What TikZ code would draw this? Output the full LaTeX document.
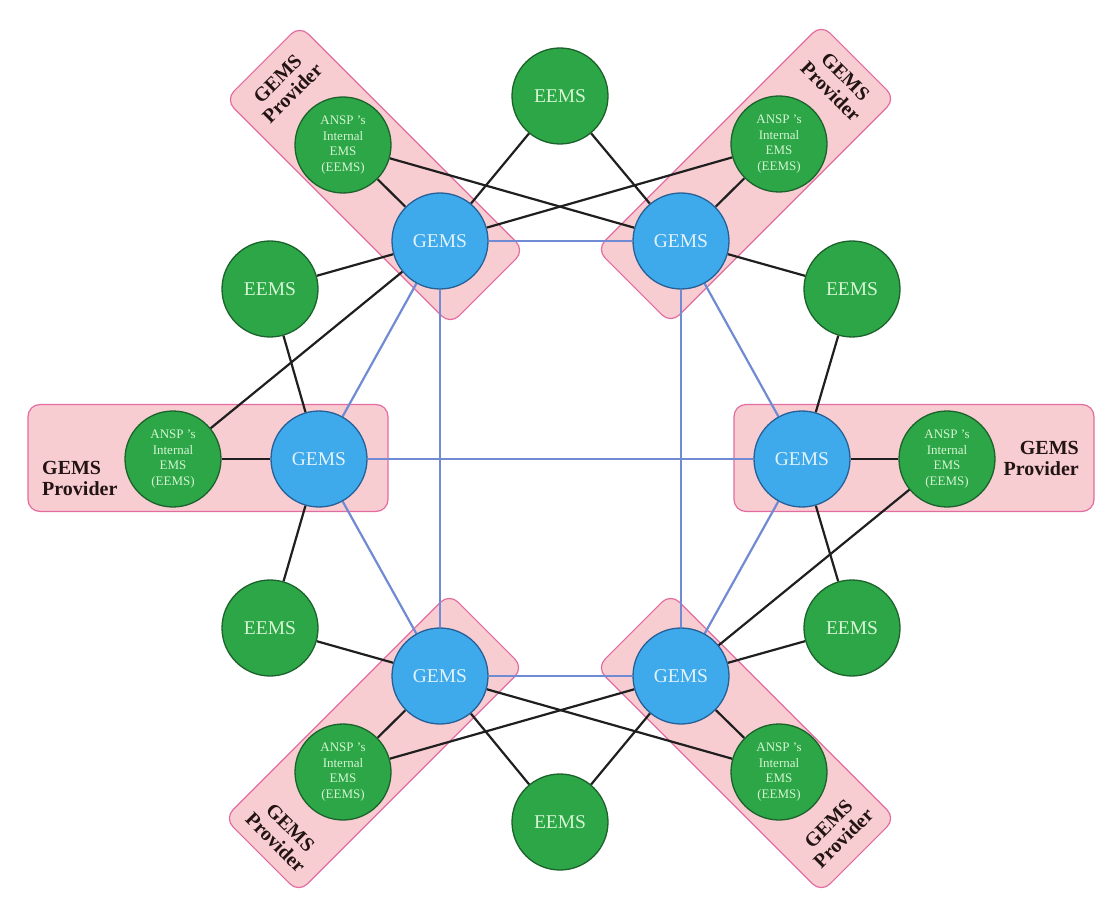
\documentclass[tikz,border=0pt]{standalone}
\usepackage{fontspec}
\setmainfont{Liberation Serif}
\usetikzlibrary{backgrounds}

\definecolor{gemsfill}{RGB}{62,170,236}
\definecolor{gemsbd}{RGB}{38,96,150}
\definecolor{gemstext}{RGB}{226,242,252}
\definecolor{eemsfill}{RGB}{44,166,70}
\definecolor{eemsbd}{RGB}{28,98,44}
\definecolor{eemstext}{RGB}{212,246,212}
\definecolor{provfill}{RGB}{248,205,210}
\definecolor{provbd}{RGB}{226,108,160}
\definecolor{provtext}{RGB}{35,20,20}
\definecolor{meshblue}{RGB}{112,138,212}

\begin{document}
\begin{tikzpicture}[x=1pt,y=-1pt,
	gems/.style={circle, draw=gemsbd, fill=gemsfill, line width=1.3pt, minimum size=96pt, inner sep=0pt, text=gemstext, font=\fontsize{19.5}{21}\selectfont},
	eems/.style={circle, draw=eemsbd, fill=eemsfill, line width=1.3pt, minimum size=96pt, inner sep=0pt, text=eemstext, font=\fontsize{19.5}{21}\selectfont},
	ansp/.style={eems, align=center, font=\fontsize{13}{15.5}\selectfont},
	provbox/.style={rectangle, rounded corners=12pt, draw=provbd, fill=provfill, line width=1.2pt, inner sep=0pt},
	provlabel/.style={font=\bfseries\fontsize{20}{21}\selectfont, text=provtext, inner sep=0pt},
	mesh/.style={line width=2.2pt, draw=meshblue},
	link/.style={line width=2.2pt, draw=black!88}]
	\useasboundingbox (0,0) rectangle (1112,917);
	
	%GEMS
	\node[gems] (g1) at (440,241) {GEMS};
	\node[gems] (g2) at (681,241) {GEMS};
	\node[gems] (g3) at (319,459) {GEMS};
	\node[gems] (g4) at (802,459) {GEMS};
	\node[gems] (g5) at (440,676) {GEMS};
	\node[gems] (g6) at (681,676) {GEMS};
	
	%EEMS
	\node[eems] (etop) at (560,96)  {EEMS};
	\node[eems] (eul)  at (270,289) {EEMS};
	\node[eems] (eur)  at (852,289) {EEMS};
	\node[eems] (ell)  at (270,628) {EEMS};
	\node[eems] (elr)  at (852,628) {EEMS};
	\node[eems] (ebot) at (560,822) {EEMS};
	
	%internal EMS
	\node[ansp] (a1) at (343,145) {ANSP 's\\Internal\\EMS\\(EEMS)};
	\node[ansp] (a2) at (779,144) {ANSP 's\\Internal\\EMS\\(EEMS)};
	\node[ansp] (a3) at (173,459) {ANSP 's\\Internal\\EMS\\(EEMS)};
	\node[ansp] (a4) at (947,459) {ANSP 's\\Internal\\EMS\\(EEMS)};
	\node[ansp] (a5) at (343,772) {ANSP 's\\Internal\\EMS\\(EEMS)};
	\node[ansp] (a6) at (779,772) {ANSP 's\\Internal\\EMS\\(EEMS)};
	
	%provider boxes
	\begin{scope}[on background layer]
	\node[provbox, minimum width=360pt, minimum height=107pt] (boxL) at (208,458) {};
	\node[provbox, minimum width=360pt, minimum height=107pt] (boxR) at (914,458) {};
	\node[provbox, minimum width=318pt, minimum height=105pt, rotate=-45] (boxUL) at (375,175) {};
	\node[provbox, minimum width=318pt, minimum height=105pt, rotate=45]  (boxUR) at (746,174) {};
	\node[provbox, minimum width=318pt, minimum height=105pt, rotate=45]  (boxLL) at (374,743) {};
	\node[provbox, minimum width=318pt, minimum height=105pt, rotate=-45] (boxLR) at (746,743) {};
	\end{scope}
	
	%labels
	\node[provlabel, align=left, anchor=west]  (labL) at (42,478)   {GEMS\\Provider};
	\node[provlabel, align=right, anchor=east] (labR) at (1079,458) {GEMS\\Provider};
	\node[provlabel, align=center, rotate=45]  (labUL) at (285,86)  {GEMS\\Provider};
	\node[provlabel, align=center, rotate=-45] (labUR) at (838,84)  {GEMS\\Provider};
	\node[provlabel, align=center, rotate=-45] (labLL) at (283,835) {GEMS\\Provider};
	\node[provlabel, align=center, rotate=45]  (labLR) at (836,831) {GEMS\\Provider};
	
	%connections
	\begin{scope}[on background layer]
	%GEMS mesh
	\draw[mesh] (g1)--(g2);
	\draw[mesh] (g1)--(g3);
	\draw[mesh] (g1)--(g5);
	\draw[mesh] (g2)--(g4);
	\draw[mesh] (g2)--(g6);
	\draw[mesh] (g3)--(g4);
	\draw[mesh] (g3)--(g5);
	\draw[mesh] (g4)--(g6);
	\draw[mesh] (g5)--(g6);
	%
	\draw[link] (etop)--(g1);
	\draw[link] (etop)--(g2);
	\draw[link] (a1)--(g1);
	\draw[link] (a1)--(g2);
	\draw[link] (a2)--(g2);
	\draw[link] (a2)--(g1);
	%
	\draw[link] (eul)--(g1);
	\draw[link] (eul)--(g3);
	\draw[link] (a3)--(g3);
	\draw[link] (a3)--(g1);
	%
	\draw[link] (eur)--(g2);
	\draw[link] (eur)--(g4);
	\draw[link] (a4)--(g4);
	\draw[link] (a4)--(g6);
	%
	\draw[link] (ell)--(g3);
	\draw[link] (ell)--(g5);
	\draw[link] (elr)--(g4);
	\draw[link] (elr)--(g6);
	%
	\draw[link] (a5)--(g5);
	\draw[link] (a5)--(g6);
	\draw[link] (a6)--(g6);
	\draw[link] (a6)--(g5);
	\draw[link] (ebot)--(g5);
	\draw[link] (ebot)--(g6);
	\end{scope}
\end{tikzpicture}
\end{document}
